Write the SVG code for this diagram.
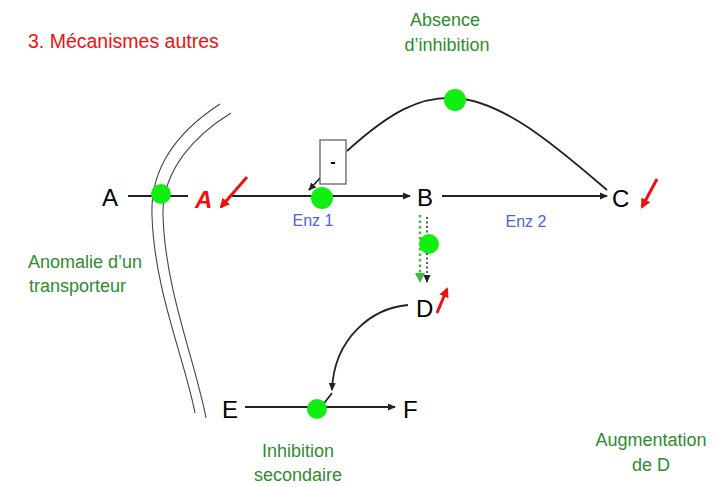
<svg xmlns="http://www.w3.org/2000/svg" width="726" height="487" viewBox="0 0 726 487">
<style>
.lbl{font-family:"Liberation Sans","DejaVu Sans",sans-serif;font-size:24px;fill:#000}
.red{fill:#f01010}
.grn{font-family:"Liberation Sans","DejaVu Sans",sans-serif;font-size:18px;fill:#2e8b2e}
.enz{font-family:"Liberation Sans","DejaVu Sans",sans-serif;font-size:16px;fill:#4a66e0}
.ln{stroke:#222;stroke-width:1.8;fill:none}
.dot{fill:#11ee11}
.mem{stroke:#444;stroke-width:1.1;fill:none}
.ra{stroke:#f01010;stroke-width:3;fill:none}
</style>
<defs>
<marker id="ah" markerWidth="8" markerHeight="8" refX="7" refY="4" orient="auto" markerUnits="userSpaceOnUse"><path d="M0,0.5 L8,4 L0,7.5 Z" fill="#222"/></marker>
<marker id="ahr" markerWidth="10" markerHeight="10" refX="8" refY="5" orient="auto" markerUnits="userSpaceOnUse"><path d="M0,0 L10,5 L0,10 Z" fill="#f01010"/></marker>
<marker id="ahg" markerWidth="10" markerHeight="10" refX="8" refY="5" orient="auto" markerUnits="userSpaceOnUse"><path d="M0,0 L10,5 L0,10 Z" fill="#44bb44"/></marker>
</defs>

<text x="28" y="48" font-family="Liberation Sans, DejaVu Sans, sans-serif" font-size="19.5" fill="#f01010">3. Mécanismes autres</text>

<g id="membrane">
<path class="mem" d="M220,104 C180,130 150,165 152,215 C154,290 185,360 195,413"/>
<path class="mem" d="M231,113 C195,135 162,170 163,215 C165,290 195,360 206,418"/>
</g>

<g id="connectors">
<line class="ln" x1="128" y1="196" x2="188" y2="196"/>
<line class="ln" x1="232" y1="196" x2="410" y2="196" marker-end="url(#ah)"/>
<line class="ln" x1="442" y1="196" x2="607" y2="196" marker-end="url(#ah)"/>
<path class="ln" d="M347,151 C390,112 420,96 455,98 C505,101 560,150 607,190"/>
<line class="ln" stroke-width="1.3" x1="321" y1="177" x2="309" y2="190" marker-end="url(#ah)"/>
<line stroke="#44bb44" stroke-width="2.5" stroke-dasharray="2.5,3" x1="420" y1="215" x2="420" y2="281" marker-end="url(#ahg)"/>
<line stroke="#222" stroke-width="1.5" stroke-dasharray="2,2.5" x1="427" y1="217" x2="427" y2="282" marker-end="url(#ah)"/>
<path class="ln" d="M408,305 C372,308 334,338 332,390" marker-end="url(#ah)"/>
<line class="ln" stroke-width="1.2" x1="332" y1="393" x2="322" y2="406"/>
<line class="ln" x1="245" y1="407" x2="395" y2="407" marker-end="url(#ah)"/>
</g>

<g id="nodeA"><text class="lbl" x="102" y="206">A</text></g>
<g id="nodeA2"><text class="lbl red" x="195" y="208" font-style="italic" font-weight="bold">A</text><line class="ra" x1="247" y1="177" x2="221" y2="207" marker-end="url(#ahr)"/></g>
<g id="nodeB"><text class="lbl" x="417" y="206">B</text></g>
<g id="nodeC"><text class="lbl" x="612" y="207">C</text><line class="ra" x1="657" y1="179" x2="642" y2="207" marker-end="url(#ahr)"/></g>
<g id="nodeD"><text class="lbl" x="416" y="317">D</text><line class="ra" x1="437" y1="313" x2="447" y2="289" marker-end="url(#ahr)"/></g>
<g id="nodeE"><text class="lbl" x="222" y="418">E</text></g>
<g id="nodeF"><text class="lbl" x="403" y="418">F</text></g>

<g id="inhibBox">
<rect x="320" y="140" width="26" height="44" fill="#fff" stroke="#555" stroke-width="1.2"/>
<text x="333" y="167" text-anchor="middle" font-family="Liberation Sans, sans-serif" font-size="16" font-weight="bold">-</text>
</g>

<g id="dots">
<circle class="dot" cx="161" cy="194" r="10"/>
<circle class="dot" cx="322" cy="198" r="11"/>
<circle class="dot" cx="455" cy="100" r="11"/>
<circle class="dot" cx="429" cy="244" r="10"/>
<circle class="dot" cx="317" cy="409" r="10"/>
</g>

<g id="labels">
<text class="enz" x="313" y="226" text-anchor="middle">Enz 1</text>
<text class="enz" x="526" y="227" text-anchor="middle">Enz 2</text>
<text class="grn" x="445" y="26" text-anchor="middle">Absence</text>
<text class="grn" x="447" y="51" text-anchor="middle">d’inhibition</text>
<text class="grn" x="28" y="268">Anomalie d’un</text>
<text class="grn" x="29" y="292">transporteur</text>
<text class="grn" x="298" y="457" text-anchor="middle">Inhibition</text>
<text class="grn" x="298" y="481" text-anchor="middle">secondaire</text>
<text class="grn" x="651" y="446" text-anchor="middle">Augmentation</text>
<text class="grn" x="651" y="471" text-anchor="middle">de D</text>
</g>
</svg>
